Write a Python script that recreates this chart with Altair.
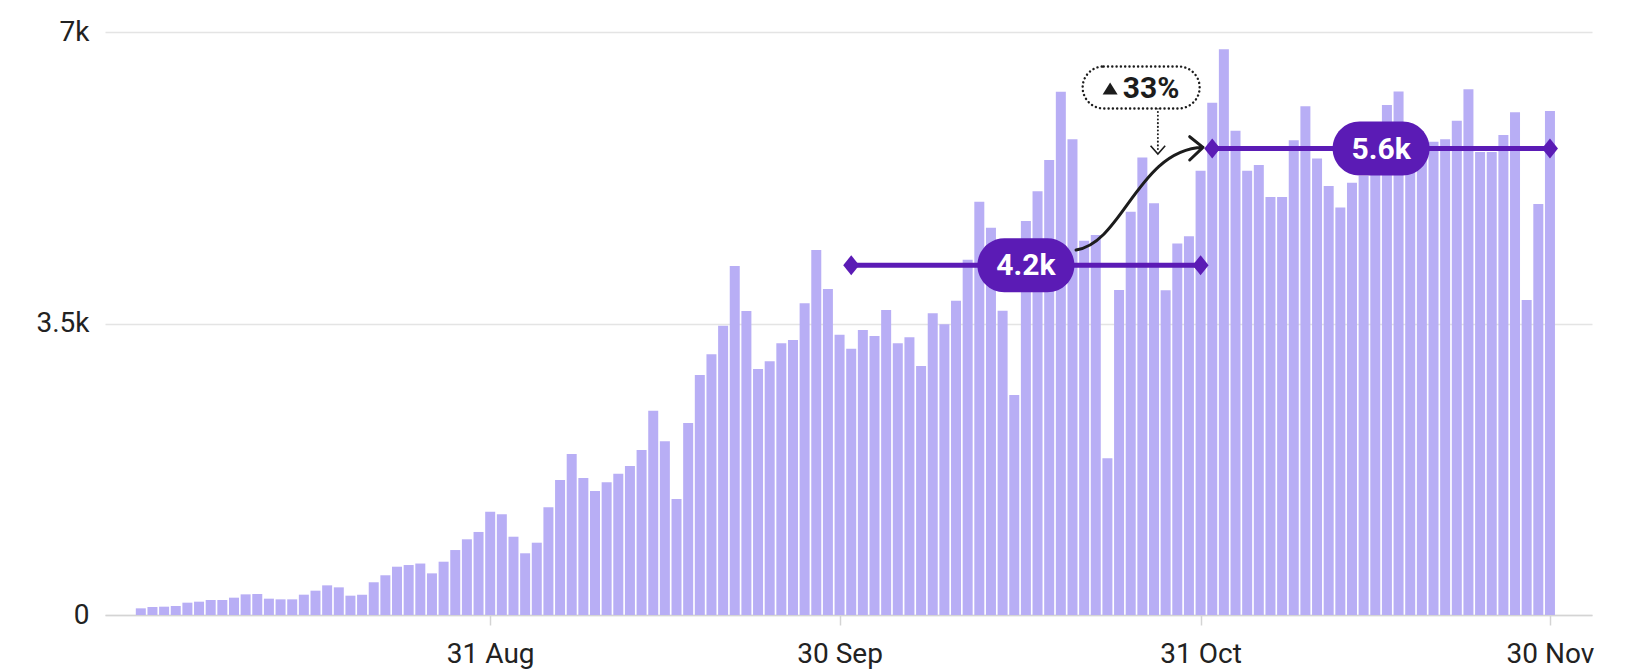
import altair as alt
import pandas as pd

# ------------------------------------------------------------------ data
start_day = "2024-08-01"
daily_counts = [
    80, 96, 100, 108, 148, 160, 180, 180, 208, 248,
    252, 196, 188, 188, 244, 292, 356, 332, 232, 244,
    393, 477, 580, 600, 618, 500, 640, 780, 909, 997,
    1240, 1209, 940, 741, 868, 1293, 1621, 1933, 1645, 1489,
    1593, 1697, 1789, 1981, 2453, 2085, 1393, 2305, 2882, 3130,
    3474, 4190, 3650, 2954, 3046, 3262, 3302, 3742, 4383, 3914,
    3366, 3198, 3422, 3350, 3662, 3262, 3334, 2990, 3622, 3490,
    3774, 4265, 4963, 4650, 3654, 2642, 4731, 5087, 5463, 6284,
    5712, 4495, 4563, 1881, 3902, 4843, 5493, 4943, 3900, 4460,
    4547, 5333, 6151, 6792, 5813, 5335, 5403, 5020, 5020, 5700,
    6108, 5480, 5150, 4892, 5190, 5270, 5600, 6122, 6285, 5700,
    5600, 5683, 5712, 5935, 6312, 5560, 5560, 5763, 6036, 3782,
    4935, 6051,
]

range_labels = ["4.2k", "5.6k"]
range_starts = ["2024-10-01", "2024-11-01"]
range_ends = ["2024-10-31", "2024-11-30"]
range_values = [4200, 5600]

change_label = "33%"

axis_dates = ["2024-08-31", "2024-09-30", "2024-10-31", "2024-11-30"]
y_ticks = [0, 3500, 7000]

# annotation anchors (date, value)
curve_anchor = ("2024-10-25T18:10:00Z", 5062)
badge_anchor = ("2024-10-25T21:30:00Z", 6334)
pointer_x = "2024-10-27T08:00:00Z"
pointer_top, pointer_bottom = 6084, 5585

# ------------------------------------------------------------------ tables
ISO = "%Y-%m-%dT%H:%M:%SZ"
days = pd.date_range(start_day, periods=len(daily_counts), freq="D")
bars_df = pd.DataFrame({"date": days.strftime(ISO), "count": daily_counts})

st = pd.to_datetime(range_starts)
en = pd.to_datetime(range_ends)
ranges_df = pd.DataFrame({
    "label": range_labels,
    "start": st.strftime(ISO),
    "end": en.strftime(ISO),
    "mid": (st + (en - st) / 2).strftime(ISO),
    "value": range_values,
})
ends_df = pd.DataFrame({
    "date": list(st.strftime(ISO)) + list(en.strftime(ISO)),
    "value": range_values + range_values,
})
curve_df = pd.DataFrame({"date": [curve_anchor[0]], "value": [curve_anchor[1]]})
badge_df = pd.DataFrame({"date": [badge_anchor[0]], "value": [badge_anchor[1]],
                         "label": [change_label]})
pointer_df = pd.DataFrame({"date": [pointer_x], "top": [pointer_top],
                           "bottom": [pointer_bottom]})

# ------------------------------------------------------------------ style
BAR = "#b8aef5"
PURPLE = "#5b1bb5"
INK = "#1c1c1c"
FONT = "Roboto"


def dt(s, h=0, m=0):
    y, mo, d = (int(v) for v in s.split("-"))
    return alt.DateTime(year=y, month=mo, date=d, hours=h, minutes=m, utc=True)


def stadium(aspect):
    r = round(aspect, 4)
    a = round(1 - r, 4)
    return (f"M{-a},{-r} L{a},{-r} A{r},{r} 0 0 1 {a},{r} "
            f"L{-a},{r} A{r},{r} 0 0 1 {-a},{-r} Z")


x_scale = alt.Scale(type="utc", domain=[dt("2024-07-29", 8, 30), dt("2024-12-03", 4, 20)],
                    nice=False)
y_scale = alt.Scale(domain=[0, 7000], nice=False, zero=True)

x_axis = alt.Axis(
    title=None, values=[dt(d) for d in axis_dates],
    labelExpr="utcFormat(datum.value, '%-d %b')",
    grid=False, domain=True, domainColor="#d4d4d4", domainWidth=1.5,
    ticks=True, tickSize=10, tickColor="#d4d4d4", tickWidth=1.5,
    labelFontSize=28, labelColor="#222222", labelPadding=15, labelFont=FONT,
)
y_axis = alt.Axis(
    title=None, values=y_ticks,
    labelExpr="datum.value == 0 ? '0' : format(datum.value / 1000, '.1~f') + 'k'",
    grid=True, gridColor="#e4e4e4", gridWidth=1.5, domain=False, ticks=False,
    labelFontSize=28, labelColor="#222222", labelPadding=16, labelFont=FONT,
)


def XT(f):
    return alt.X(f, scale=x_scale, axis=x_axis)


def YQ(f):
    return alt.Y(f, scale=y_scale, axis=y_axis)


bars = alt.Chart(bars_df).mark_bar(color=BAR, size=10, opacity=1).encode(
    x=XT("date:T"), y=YQ("count:Q"),
)

range_lines = alt.Chart(ranges_df).mark_rule(color=PURPLE, strokeWidth=5).encode(
    x=XT("start:T"), x2="end:T", y=YQ("value:Q"),
)

diamonds = alt.Chart(ends_df).mark_point(
    shape="M0,-1 L0.8,0 L0,1 L-0.8,0 Z", size=400, filled=True,
    color=PURPLE, opacity=1,
).encode(x=XT("date:T"), y=YQ("value:Q"))

pills = alt.Chart(ranges_df).mark_point(
    shape=stadium(54 / 97), size=97 * 97, filled=True, color=PURPLE, opacity=1,
).encode(x=XT("mid:T"), y=YQ("value:Q"))

pill_text = alt.Chart(ranges_df).mark_text(
    color="white", font=FONT, fontWeight="bold", fontSize=30,
    align="center", baseline="middle", dy=1,
).encode(x=XT("mid:T"), y=YQ("value:Q"), text="label:N")

curve_path = ("M-0.992,0.884 C-0.258,0.775 -0.023,-0.678 0.992,-0.72 "
              "M0.784,-0.886 L0.992,-0.72 L0.784,-0.522")
curve = alt.Chart(curve_df).mark_point(
    shape=curve_path, size=128 * 128, filled=False, stroke=INK, strokeWidth=3,
    opacity=1, strokeCap="round", strokeJoin="round",
).encode(x=XT("date:T"), y=YQ("value:Q"))

pointer = alt.Chart(pointer_df).mark_rule(
    color=INK, strokeWidth=2, strokeDash=[0.1, 3.6], strokeCap="round",
).encode(x=XT("date:T"), y=YQ("top:Q"), y2="bottom:Q")

pointer_head = alt.Chart(pointer_df).mark_point(
    shape="M-1,-0.57 L0,0.57 L1,-0.57", size=213, filled=False, stroke=INK,
    strokeWidth=1.6, opacity=1,
).encode(x=XT("date:T"), y=YQ("bottom:Q"))

badge = alt.Chart(badge_df).mark_point(
    shape=stadium(42 / 117), size=117 * 117, filled=True, fill="white",
    stroke=INK, strokeWidth=2.4, strokeDash=[0.1, 4.2], strokeCap="round", opacity=1,
).encode(x=XT("date:T"), y=YQ("value:Q"))

badge_tri = alt.Chart(badge_df).mark_point(
    shape="M0,-0.8 L1,0.8 L-1,0.8 Z", size=225, filled=True, color=INK,
    opacity=1, xOffset=-31, yOffset=1,
).encode(x=XT("date:T"), y=YQ("value:Q"))

badge_text = alt.Chart(badge_df).mark_text(
    color=INK, font=FONT, fontWeight="bold", fontSize=30,
    align="center", baseline="middle", dx=10, dy=2,
).encode(x=XT("date:T"), y=YQ("value:Q"), text="label:N")

chart = alt.layer(
    bars, range_lines, diamonds, pills, pill_text, curve,
    pointer, pointer_head, badge, badge_tri, badge_text,
).properties(
    width=1487, height=583,
    autosize=alt.AutoSizeParams(type="none"),
    padding={"left": 97, "top": 24, "right": 45, "bottom": 56},
).configure(font=FONT).configure_view(stroke=None)

chart.save("out.html", embed_options={"renderer": "svg", "actions": False})
